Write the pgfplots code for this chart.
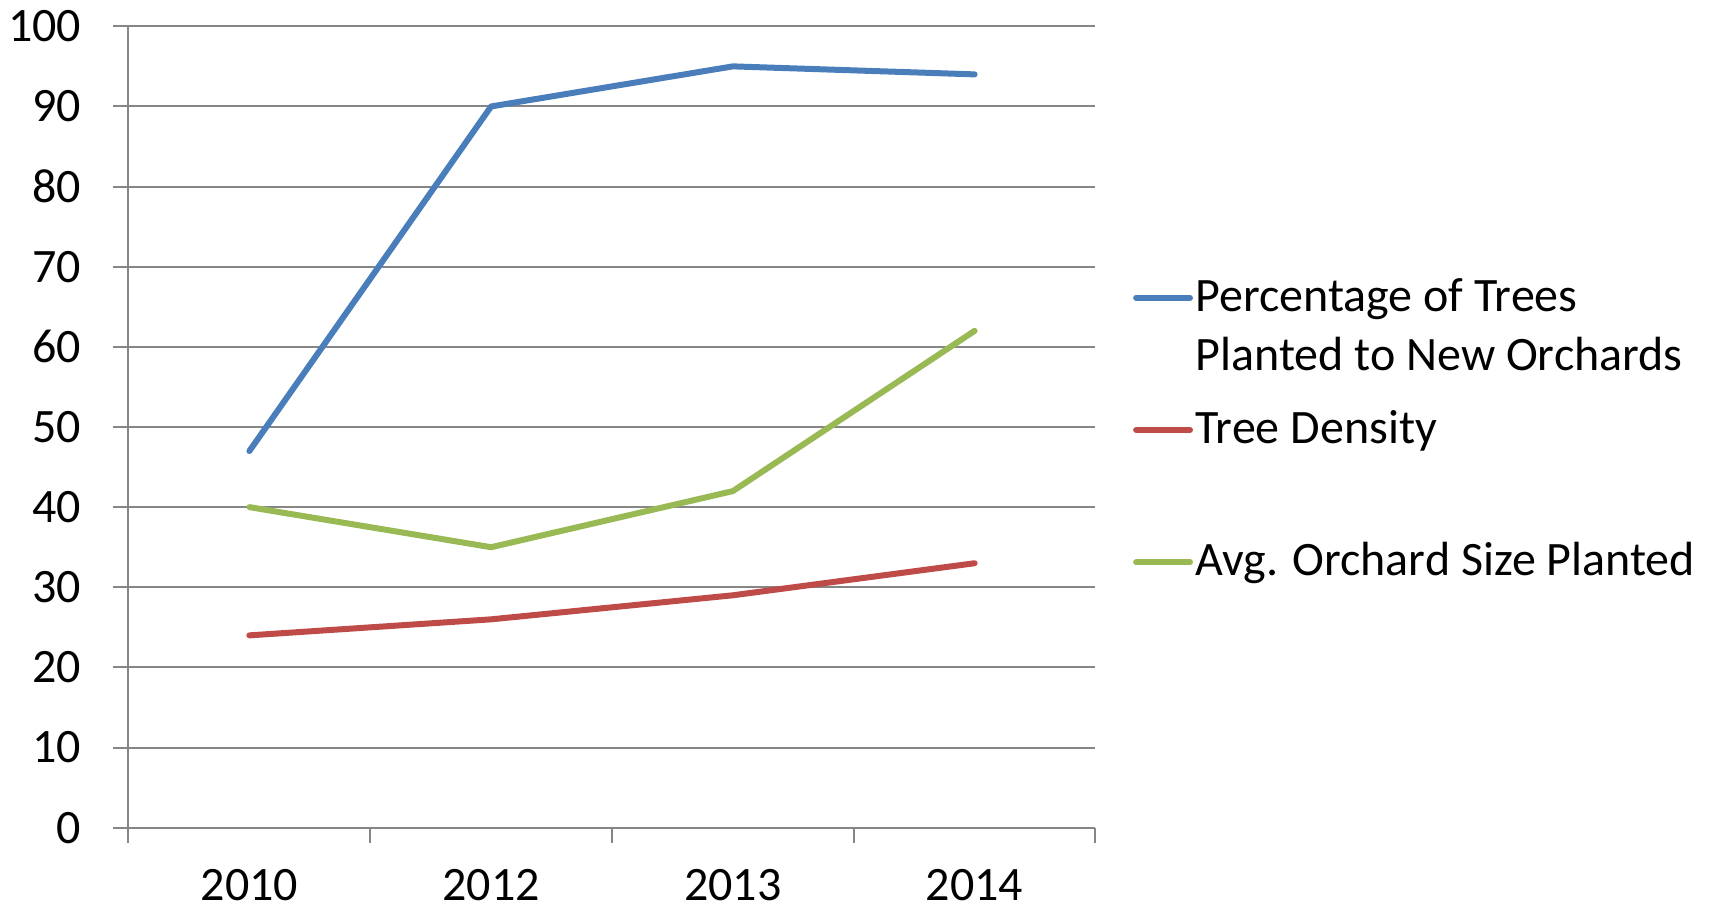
\documentclass[border=0pt]{standalone}
\usepackage{fontspec}
\setmainfont{Carlito}
\usepackage{pgfplots}
\pgfplotsset{compat=1.18}
\definecolor{sblue}{HTML}{4A7EBB}
\definecolor{sred}{HTML}{BE4B48}
\definecolor{sgreen}{HTML}{98B954}
\definecolor{agray}{HTML}{868686}
\begin{document}
\fontsize{24}{29}\selectfont
\begin{tikzpicture}
\path[use as bounding box] (-64.25pt,-41.65pt) rectangle (790.25pt,413.85pt);
\begin{axis}[
  anchor=south west, at={(0pt,0pt)},
  scale only axis, width=483.5pt, height=400.7pt,
  xmin=-0.5, xmax=3.5, ymin=0, ymax=100,
  axis lines=left, axis line style={-, agray, line width=1pt},
  xtick={0,1,2,3}, xticklabels={2010,2012,2013,2014},
  minor xtick={-0.5,0.5,1.5,2.5,3.5},
  ytick={0,10,...,100},
  tick align=outside,
  major x tick style={draw=none},
  minor x tick style={agray, line width=1pt},
  minor tick length=7.5pt,
  major tick length=7.5pt,
  y tick style={agray, line width=1pt},
  ymajorgrids, grid style={agray, line width=1pt},
  /pgf/number format/assume math mode=true,
  tick label style={font=\fontsize{24}{29}\selectfont},
  yticklabel style={xshift=-8pt},
  xticklabel style={yshift=-5pt},
  every axis plot/.append style={line width=3pt, line cap=round, line join=round},
  clip=false,
]
\addplot[sblue, mark=none] coordinates {(0,47) (1,90) (2,95) (3,94)};
\addplot[sred, mark=none] coordinates {(0,24) (1,26) (2,29) (3,33)};
\addplot[sgreen, mark=none] coordinates {(0,40) (1,35) (2,42) (3,62)};
% legend
\draw[sblue, line width=3pt, line cap=round] (axis description cs:1.0420,0.6614) -- (axis description cs:1.0977,0.6614);
\draw[sred, line width=3pt, line cap=round] (axis description cs:1.0420,0.4963) -- (axis description cs:1.0977,0.4963);
\draw[sgreen, line width=3pt, line cap=round] (axis description cs:1.0420,0.3311) -- (axis description cs:1.0977,0.3311);
\node[anchor=base west, inner sep=0pt] at (axis description cs:1.1030,0.6439) {Percentage of Trees};
\node[anchor=base west, inner sep=0pt] at (axis description cs:1.1030,0.5711) {Planted to New Orchards};
\node[anchor=base west, inner sep=0pt] at (axis description cs:1.1030,0.4797) {Tree Density};
\node[anchor=base west, inner sep=0pt] at (axis description cs:1.1030,0.3153) {Avg. Orchard Size Planted};
\end{axis}
\end{tikzpicture}
\end{document}
